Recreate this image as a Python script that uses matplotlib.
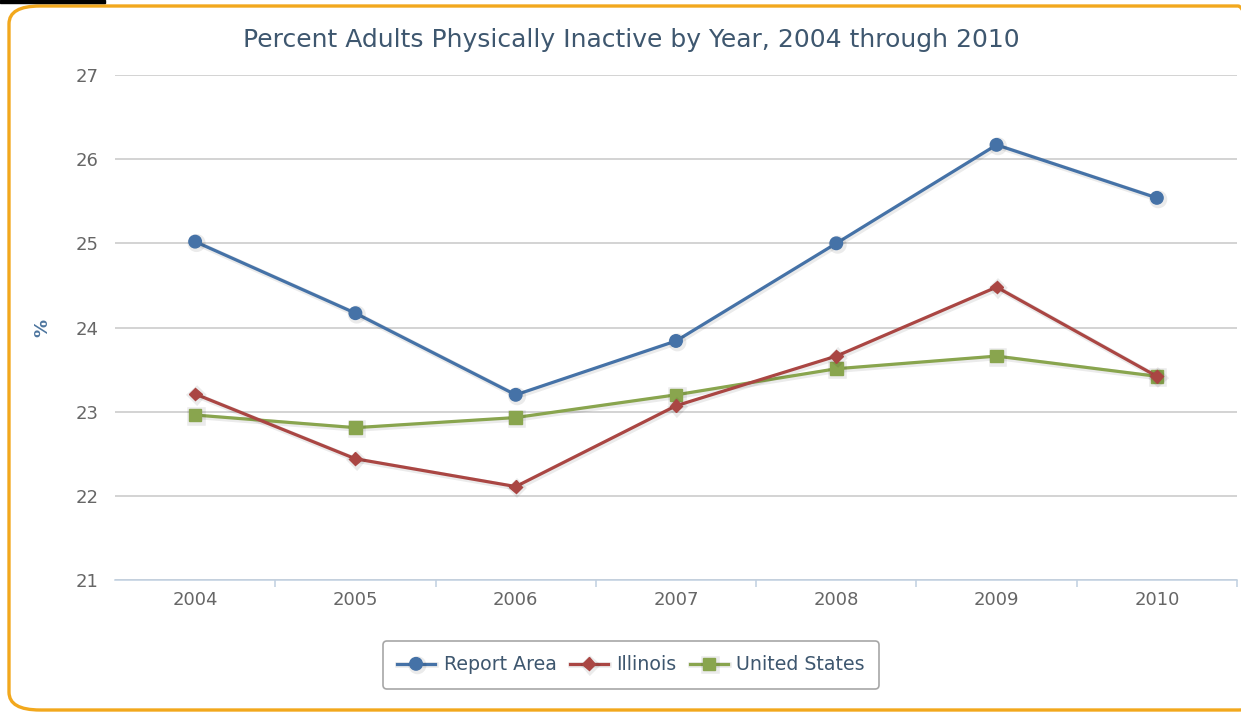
import numpy as np
from matplotlib import pyplot as plt
from matplotlib.patches import FancyBboxPatch, Rectangle
import matplotlib.patheffects as pe

## DATA
years = ["2004", "2005", "2006", "2007", "2008", "2009", "2010"]
report_area = [25.02, 24.17, 23.20, 23.84, 25.00, 26.17, 25.54]
illinois = [23.21, 22.44, 22.11, 23.07, 23.66, 24.48, 23.42]
united_states = [22.96, 22.81, 22.93, 23.20, 23.51, 23.66, 23.42]
y_ticks = [21, 22, 23, 24, 25, 26, 27]
## END DATA

fig = plt.figure(figsize=(12.41, 7.12), dpi=100)

# orange frame around the chart
fig.patches.append(FancyBboxPatch((9/1241, 2/712), 1260/1241, 704/712,
                                  boxstyle="round,pad=0,rounding_size=0.025",
                                  transform=fig.transFigure, fill=False,
                                  edgecolor="#F2A81D", linewidth=2.4, zorder=0))
fig.patches.append(Rectangle((0, 709/712), 105/1241, 3/712, transform=fig.transFigure,
                             color="black", zorder=1))

ax = fig.add_axes([115/1241, 1-580/712, 1122/1241, 505/712])
x = np.arange(len(years))

shadow = [pe.SimpleLineShadow(offset=(1, -1), shadow_color="black", alpha=0.08, linewidth=4), pe.Normal()]
ax.plot(x, report_area, color="#4572A7", lw=2.3, marker="o", ms=9, label="Report Area",
        path_effects=shadow, zorder=5)
ax.plot(x, illinois, color="#AA4643", lw=2.3, marker="D", ms=6.5, label="Illinois",
        path_effects=shadow, zorder=4)
ax.plot(x, united_states, color="#89A54E", lw=2.3, marker="s", ms=9, label="United States",
        path_effects=shadow, zorder=3)

ax.set_xlim(-0.5, len(years) - 0.5)
ax.set_ylim(21, 27)
ax.set_yticks(y_ticks)
ax.set_yticklabels([str(v) for v in y_ticks])
ax.set_xticks(x)
ax.set_xticklabels(years)
ax.set_xticks(np.arange(0.5, len(years) - 0.5 + 0.01, 1.0), minor=True)

ax.grid(axis="y", color="#C8C8C8", lw=1.1)
ax.set_axisbelow(True)
for s in ["top", "right", "left"]:
    ax.spines[s].set_visible(False)
ax.spines["bottom"].set_color("#C0D0E0")
ax.spines["bottom"].set_linewidth(1.1)

ax.tick_params(axis="x", which="major", length=0, pad=8, labelsize=13, labelcolor="#666666")
ax.tick_params(axis="x", which="minor", length=5, color="#C0D0E0", width=1.1)
ax.tick_params(axis="y", length=0, pad=12, labelsize=13, labelcolor="#666666")

ax.set_ylabel("%", color="#4D759E", fontsize=13, fontweight="bold", labelpad=17)

fig.text(631/1241, 1-40/712, "Percent Adults Physically Inactive by Year, 2004 through 2010",
         ha="center", va="center", fontsize=18, color="#3E576F")

leg = fig.legend(loc="center", bbox_to_anchor=(631/1241, 1-665/712), ncol=3,
                 fontsize=13.7, frameon=True, fancybox=True, handlelength=2.0,
                 columnspacing=0.7, handletextpad=0.45, borderpad=0.75)
leg.get_frame().set_edgecolor("#909090")
leg.get_frame().set_linewidth(1.2)
for t in leg.get_texts():
    t.set_color("#3E576F")

fig.savefig("out.png", dpi=100)
